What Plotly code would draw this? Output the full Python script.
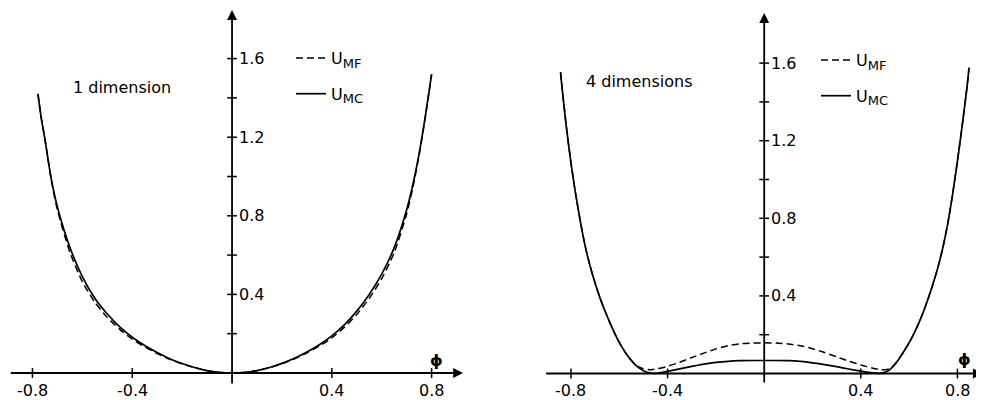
import plotly.graph_objects as go

# ---------------- data ----------------
phi_1d = [-0.778, -0.765, -0.75, -0.725, -0.70, -0.65, -0.60, -0.55, -0.50, -0.45,
          -0.40, -0.35, -0.30, -0.25, -0.20, -0.15, -0.10, -0.05, 0.0,
          0.05, 0.10, 0.15, 0.20, 0.25, 0.30, 0.35, 0.40, 0.45, 0.50,
          0.55, 0.60, 0.65, 0.70, 0.725, 0.75, 0.775, 0.80]
u_mc_1d = [1.42, 1.30, 1.19, 0.99, 0.845, 0.64, 0.49, 0.38, 0.30, 0.235,
           0.182, 0.14, 0.104, 0.073, 0.048, 0.028, 0.012, 0.003, 0.0,
           0.003, 0.012, 0.028, 0.049, 0.075, 0.107, 0.144, 0.189, 0.245, 0.315,
           0.40, 0.503, 0.638, 0.831, 0.959, 1.116, 1.308, 1.52]
u_mf_1d = [1.42, 1.30, 1.19, 0.985, 0.83, 0.615, 0.465, 0.36, 0.283, 0.222,
           0.172, 0.133, 0.099, 0.07, 0.046, 0.027, 0.012, 0.003, 0.0,
           0.003, 0.012, 0.027, 0.047, 0.072, 0.102, 0.137, 0.179, 0.232, 0.298,
           0.38, 0.48, 0.612, 0.81, 0.945, 1.11, 1.305, 1.52]

phi_4d = [-0.843, -0.84, -0.82, -0.80, -0.78, -0.76, -0.74, -0.72, -0.70, -0.68,
          -0.66, -0.64, -0.62, -0.60, -0.58, -0.56, -0.54, -0.52, -0.50, -0.48,
          -0.46, -0.44, -0.40, -0.35, -0.30, -0.25, -0.20, -0.15, -0.10, -0.05,
          0.0, 0.05, 0.10, 0.15, 0.20, 0.25, 0.30, 0.35, 0.40, 0.45, 0.48, 0.50,
          0.52, 0.54, 0.56, 0.58, 0.60, 0.62, 0.64, 0.66, 0.68, 0.70, 0.72, 0.74,
          0.76, 0.78, 0.80, 0.82, 0.84, 0.848]
u_mc_4d = [1.553, 1.51, 1.28, 1.085, 0.92, 0.775, 0.65, 0.55, 0.465, 0.39,
           0.325, 0.265, 0.21, 0.16, 0.118, 0.082, 0.052, 0.03, 0.014, 0.005,
           0.001, 0.002, 0.011, 0.024, 0.037, 0.048, 0.057, 0.063, 0.066, 0.067,
           0.067, 0.067, 0.066, 0.062, 0.055, 0.046, 0.035, 0.023, 0.012, 0.003, 0.001, 0.006,
           0.02, 0.045, 0.079, 0.117, 0.159, 0.206, 0.26, 0.321, 0.39, 0.466, 0.551, 0.651,
           0.773, 0.923, 1.095, 1.28, 1.48, 1.576]
u_mf_4d = [1.553, 1.51, 1.28, 1.085, 0.92, 0.775, 0.65, 0.55, 0.465, 0.39,
           0.325, 0.265, 0.21, 0.16, 0.118, 0.082, 0.054, 0.035, 0.024, 0.02,
           0.021, 0.025, 0.037, 0.058, 0.082, 0.105, 0.127, 0.143, 0.153, 0.157,
           0.158, 0.157, 0.152, 0.143, 0.128, 0.108, 0.086, 0.064, 0.044, 0.027, 0.02, 0.019,
           0.025, 0.047, 0.079, 0.117, 0.159, 0.206, 0.26, 0.321, 0.39, 0.466, 0.551, 0.651,
           0.773, 0.923, 1.095, 1.28, 1.48, 1.576]

y_tick_vals = [0.2, 0.4, 0.6, 0.8, 1.0, 1.2, 1.4, 1.6]
y_label_vals = [0.4, 0.8, 1.2, 1.6]
y_label_text = ["0.4", "0.8", "1.2", "1.6"]
x_tick_vals = [-0.8, -0.4, 0.4, 0.8]
x_tick_text = ["-0.8", "-0.4", "0.4", "0.8"]
panel_titles = ["1 dimension", "4 dimensions"]
series_labels = ["U", "U"]
series_subs = ["MF", "MC"]
axis_symbol = "ϕ"

# ---------------- figure ----------------
FONT = "DejaVu Sans"
INK = "black"
# the page body adds an 8 px margin, so the figure is drawn 8 px smaller
W, H = 976, 392

names = [f"{u}<sub><span style='font-size:13px'>{s}</span></sub>"
         for u, s in zip(series_labels, series_subs)]

panels = [
    dict(xa="x", ya="y", phi=phi_1d, mc=u_mc_1d, mf=u_mf_1d, legend="legend",
         title=panel_titles[0], title_pos=(-0.44, 1.452),
         xaxis_span=(-0.893, 0.926), yaxis_span=(-0.061, 1.847), sym_pos=(0.82, 0.066)),
    dict(xa="x2", ya="y2", phi=phi_4d, mc=u_mc_4d, mf=u_mf_4d, legend="legend2",
         title=panel_titles[1], title_pos=(-0.518, 1.504),
         xaxis_span=(-0.909, 0.905), yaxis_span=(-0.054, 1.858), sym_pos=(0.83, 0.074)),
]

fig = go.Figure()
annotations = []

for p in panels:
    fig.add_trace(go.Scatter(
        x=p["phi"], y=p["mf"], mode="lines", name=names[0],
        line=dict(color=INK, width=1.5, dash="7px,4px", shape="spline", smoothing=0.6),
        legend=p["legend"], legendgroup="mf", xaxis=p["xa"], yaxis=p["ya"],
        hoverinfo="skip"))
    fig.add_trace(go.Scatter(
        x=p["phi"], y=p["mc"], mode="lines", name=names[1],
        line=dict(color=INK, width=1.7, shape="spline", smoothing=0.6),
        legend=p["legend"], legendgroup="mc", xaxis=p["xa"], yaxis=p["ya"],
        hoverinfo="skip"))
    # tick marks on y axis
    fig.add_trace(go.Scatter(
        x=[0] * len(y_tick_vals), y=y_tick_vals, mode="markers",
        marker=dict(symbol="line-ew", size=7, line=dict(width=1.5, color=INK)),
        xaxis=p["xa"], yaxis=p["ya"], showlegend=False, hoverinfo="skip"))
    # tick marks on x axis
    fig.add_trace(go.Scatter(
        x=x_tick_vals, y=[0] * len(x_tick_vals), mode="markers",
        marker=dict(symbol="line-ns", size=7, line=dict(width=1.5, color=INK)),
        xaxis=p["xa"], yaxis=p["ya"], showlegend=False, hoverinfo="skip"))

    # axis lines with arrowheads
    x0, x1 = p["xaxis_span"]
    y0, y1 = p["yaxis_span"]
    annotations.append(dict(x=x1, y=0, ax=x0, ay=0, xref=p["xa"], yref=p["ya"],
                            axref=p["xa"], ayref=p["ya"], text="", showarrow=True,
                            arrowhead=2, arrowsize=1.1, arrowwidth=1.8, arrowcolor=INK))
    annotations.append(dict(x=0, y=y1, ax=0, ay=y0, xref=p["xa"], yref=p["ya"],
                            axref=p["xa"], ayref=p["ya"], text="", showarrow=True,
                            arrowhead=2, arrowsize=1.1, arrowwidth=1.8, arrowcolor=INK))
    # tick labels
    for v, t in zip(y_label_vals, y_label_text):
        annotations.append(dict(x=0, y=v, xref=p["xa"], yref=p["ya"], text=t,
                                showarrow=False, xanchor="left", yanchor="middle",
                                xshift=5, font=dict(size=16, color=INK, family=FONT)))
    for v, t in zip(x_tick_vals, x_tick_text):
        annotations.append(dict(x=v, y=0, xref=p["xa"], yref=p["ya"], text=t,
                                showarrow=False, xanchor="center", yanchor="middle",
                                yshift=-17, font=dict(size=16, color=INK, family=FONT)))
    # panel title
    annotations.append(dict(x=p["title_pos"][0], y=p["title_pos"][1], xref=p["xa"],
                            yref=p["ya"], text=p["title"], showarrow=False,
                            xanchor="center", yanchor="middle",
                            font=dict(size=16, color=INK, family=FONT)))
    # axis symbol
    annotations.append(dict(x=p["sym_pos"][0], y=p["sym_pos"][1], xref=p["xa"],
                            yref=p["ya"], text="<b>" + axis_symbol + "</b>", showarrow=False,
                            xanchor="center", yanchor="middle",
                            font=dict(size=16, color=INK, family=FONT)))

legend_style = dict(xanchor="left", yanchor="top", bgcolor="rgba(0,0,0,0)",
                    font=dict(size=16, color=INK, family=FONT),
                    tracegroupgap=12, itemwidth=30, borderwidth=0)

split = 484 / W

fig.update_layout(
    width=W, height=H,
    margin=dict(l=0, r=0, t=0, b=0),
    paper_bgcolor="white", plot_bgcolor="white",
    font=dict(family=FONT, color=INK, size=16),
    showlegend=True,
    xaxis=dict(domain=[0, split], range=[-0.898, 1.042], visible=False, anchor="y"),
    yaxis=dict(domain=[0, 1], range=[-0.1374, 1.8575], visible=False, anchor="x"),
    xaxis2=dict(domain=[split, 1], range=[-1.127, 0.910], visible=False, anchor="y2"),
    yaxis2=dict(domain=[0, 1], range=[-0.1366, 1.884], visible=False, anchor="x2"),
    legend=dict(x=283 / W, y=1 - 33 / H, **legend_style),
    legend2=dict(x=808 / W, y=1 - 35 / H, **legend_style),
    annotations=annotations,
)

fig.write_html("out.html")
